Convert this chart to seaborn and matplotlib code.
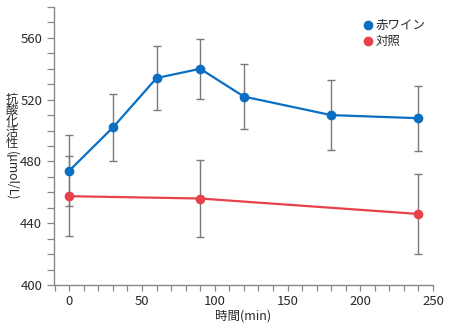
import numpy as np
import pandas as pd
import matplotlib
matplotlib.use("Agg")
import matplotlib.pyplot as plt
import seaborn as sns
from matplotlib.ticker import MultipleLocator

# data
wine_t = [0, 30, 60, 90, 120, 180, 240]
wine_v = [474, 502, 534, 540, 522, 510, 508]
wine_e = [23, 21.5, 21, 19.5, 21, 22.5, 21]
ctrl_t = [0, 90, 240]
ctrl_v = [457.5, 456, 446]
ctrl_e = [26, 25, 26]
series_names = ["赤ワイン", "対照"]
colors = ["#0a6fc2", "#e8414b"]
ylabel_kanji = "抗酸化活性"
ylabel_unit = "(μmol/L)"

sns.set_theme(style="ticks")
plt.rcParams['font.family'] = ['Noto Sans CJK JP', 'DejaVu Sans']

df = pd.concat([
    pd.DataFrame({"t": wine_t, "v": wine_v, "e": wine_e, "s": series_names[0]}),
    pd.DataFrame({"t": ctrl_t, "v": ctrl_v, "e": ctrl_e, "s": series_names[1]}),
])

fig = plt.figure(figsize=(4.5, 3.27), dpi=100)
ax = fig.add_axes([54/450, 1-285/327, (433-54)/450, (285-7)/327])

for name in series_names:
    d = df[df.s == name]
    ax.errorbar(d.t, d.v, yerr=d.e, fmt="none", ecolor="#7a7a7a", elinewidth=1.0,
                capsize=3, capthick=1.0, zorder=1)

sns.lineplot(data=df, x="t", y="v", hue="s", palette=colors, marker="o",
             markersize=7, markeredgewidth=0, linewidth=1.6, ax=ax, zorder=3,
             legend=False)

ax.set_xlim(-10.5, 250)
ax.set_ylim(400, 580)
ax.xaxis.set_major_locator(MultipleLocator(50))
ax.xaxis.set_minor_locator(MultipleLocator(10))
ax.yaxis.set_major_locator(MultipleLocator(40))
ax.yaxis.set_minor_locator(MultipleLocator(10))
ax.set_yticks([400, 440, 480, 520, 560])
for s in ["top", "right"]:
    ax.spines[s].set_visible(False)
for s in ["left", "bottom"]:
    ax.spines[s].set_color("#888888")
    ax.spines[s].set_linewidth(1.0)
ax.tick_params(which="both", direction="out", length=4, width=0.9, color="#888888",
               labelsize=9.5, labelcolor="#2a2a2a")
ax.tick_params(axis="y", which="both", length=5)
ax.set_xlabel("時間(min)", fontsize=9, color="#2a2a2a", labelpad=1)
ax.set_ylabel("")

# vertical y label: upright kanji, then rotated unit
for i, ch in enumerate(ylabel_kanji):
    fig.text(12/450, 1-(99 + 11.2*i)/327, ch, fontsize=8.8, ha="center", va="center",
             color="#2a2a2a")
fig.text(12/450, 1-151/327, ylabel_unit, fontsize=8.8, ha="center", va="top",
         rotation=-90, color="#2a2a2a")

# legend
for i, (name, c) in enumerate(zip(series_names, colors)):
    y = 1 - (25 + 16*i)/327
    fig.lines.append(plt.Line2D([368/450], [y], marker="o", color=c, markersize=7,
                                markeredgewidth=0, transform=fig.transFigure))
    fig.text(376/450, y, name, fontsize=9, va="center", ha="left", color="#2a2a2a")

fig.savefig("out.png", dpi=100)
